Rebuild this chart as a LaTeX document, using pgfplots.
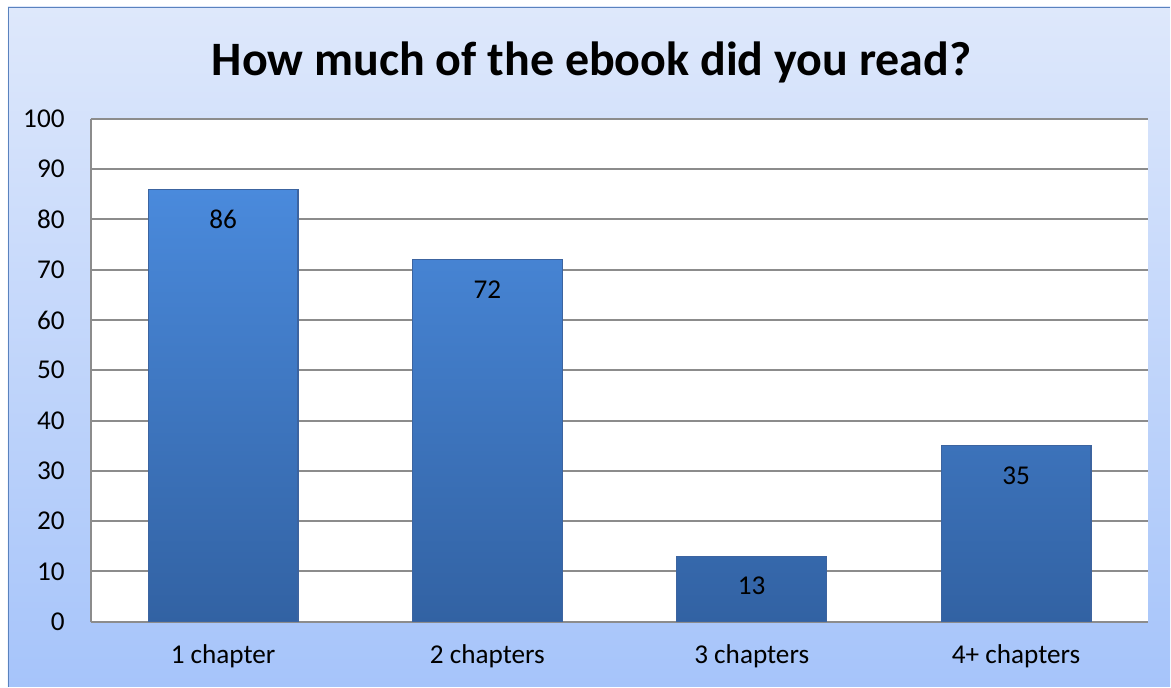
\documentclass[border=0pt]{standalone}
\usepackage{pgfplots}
\pgfplotsset{compat=1.18}
\usepackage{fontspec}
\setmainfont{Carlito}
\definecolor{bgtop}{RGB}{222,232,251}
\definecolor{bgbot}{RGB}{166,196,250}
\definecolor{frame}{RGB}{90,130,190}
\definecolor{bartop}{RGB}{74,138,220}
\definecolor{barbot}{RGB}{50,98,163}
\definecolor{bardraw}{RGB}{60,100,160}
\definecolor{gridc}{RGB}{140,140,140}
\begin{document}
\begin{tikzpicture}[x=0.5pt,y=0.5pt]
\fill[white] (0,0) rectangle (1171,687);
\shade[top color=bgtop, bottom color=bgbot] (8,0) rectangle (1171,680);
\draw[color=frame, line width=0.8pt] (8.5,0) -- (8.5,679.5) -- (1171,679.5);
\node[font=\bfseries\fontsize{24}{28}\selectfont] at (592,625) {How much of the ebook did you read?};
\begin{axis}[
  at={(45.5pt,32.5pt)}, anchor=south west,
  scale only axis, width=529pt, height=251.5pt,
  xmin=-0.5, xmax=3.5, ymin=0, ymax=100,
  ytick={0,10,...,100},
  xtick=data,
  xticklabels={1 chapter, 2 chapters, 3 chapters, 4+ chapters},
  axis x line=bottom, axis y line=left,
  axis line style={-, draw=gridc, line width=1pt},
  axis background/.style={fill=white},
  ymajorgrids,
  major grid style={draw=gridc, line width=1pt},
  major tick length=0pt,
  tick style={draw=none},
  ticklabel style={font=\fontsize{13.6}{16}\selectfont},
  /pgf/number format/assume math mode=true,
  yticklabel style={anchor=east, inner sep=0pt, xshift=-13pt},
  xticklabel style={anchor=center, inner sep=0pt, yshift=-17.5pt},
  ybar, bar width=75pt,
  nodes near coords,
  every node near coord/.append style={anchor=center, yshift=-15pt, font=\fontsize{13.6}{16}\selectfont, text=black},
]
\addplot[top color=bartop, bottom color=barbot, draw=bardraw, line width=0.6pt]
  coordinates {(0,86) (1,72) (2,13) (3,35)};
\end{axis}
\end{tikzpicture}
\end{document}
